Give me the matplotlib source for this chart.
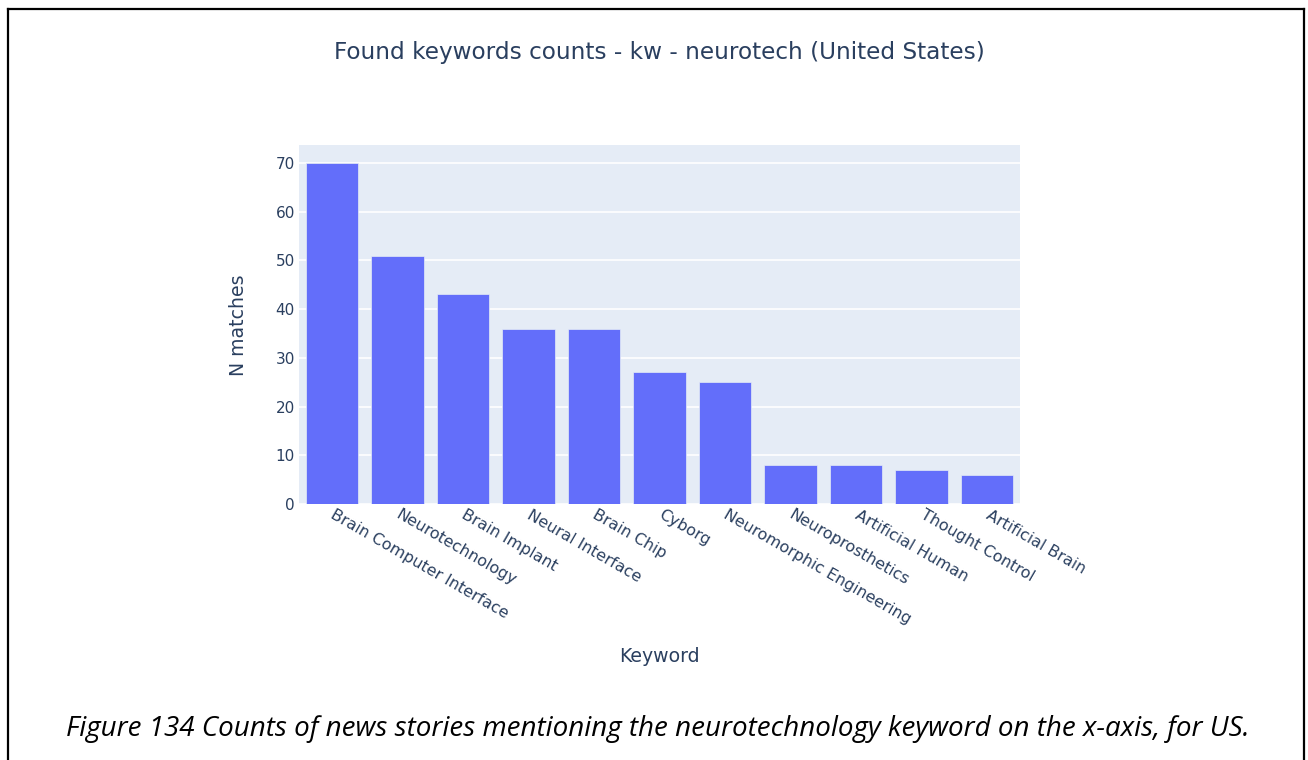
import matplotlib
matplotlib.use("Agg")
import matplotlib.pyplot as plt
from matplotlib.lines import Line2D

keywords = [
    "Brain Computer Interface", "Neurotechnology", "Brain Implant",
    "Neural Interface", "Brain Chip", "Cyborg", "Neuromorphic Engineering",
    "Neuroprosthetics", "Artificial Human", "Thought Control", "Artificial Brain",
]
counts = [70, 51, 43, 36, 36, 27, 25, 8, 8, 7, 6]
y_ticks = [0, 10, 20, 30, 40, 50, 60, 70]

title = "Found keywords counts - kw - neurotech (United States)"
caption = ("Figure 134 Counts of news stories mentioning the neurotechnology "
           "keyword on the x-axis, for US.")

TEXT = "#2a3f5f"
BAR = "#636efa"
BG = "#e5ecf6"

plt.rcParams["font.family"] = ["DejaVu Sans"]

W, H = 1308, 760
fig = plt.figure(figsize=(W / 100, H / 100), dpi=100)
fig.patch.set_facecolor("white")

ax = fig.add_axes([299 / W, 1 - 504 / H, (1020 - 299) / W, (504 - 145) / H])
ax.set_facecolor(BG)
for s in ax.spines.values():
    s.set_visible(False)

x = list(range(len(keywords)))
ax.bar(x, counts, width=0.8, color=BAR, edgecolor=BG, linewidth=0.5, zorder=3)
ax.set_xlim(-0.5, len(keywords) - 0.5)
ax.set_ylim(0, max(counts) * 1.0526)
ax.set_yticks(y_ticks)
ax.yaxis.grid(True, color="white", linewidth=1.2, zorder=0)
ax.set_axisbelow(True)
ax.tick_params(axis="y", length=0, pad=3, labelsize=11, labelcolor=TEXT)
ax.tick_params(axis="x", length=0, pad=7, labelsize=11.4, labelcolor=TEXT)
ax.set_xticks(x)
ax.set_xticklabels(keywords, rotation=-30, ha="left", va="center",
                   rotation_mode="anchor")

fig.text(659 / W, 1 - 53 / H, title, ha="center", va="center",
         fontsize=16.7, color=TEXT)
fig.text(238 / W, 1 - 325 / H, "N matches", rotation=90, ha="center",
         va="center", fontsize=13.6, color=TEXT)
fig.text(659 / W, 1 - 657 / H, "Keyword", ha="center", va="center",
         fontsize=13.6, color=TEXT)
fig.text(658 / W, 1 - 729 / H, caption, ha="center", va="center",
         fontsize=20, style="italic", color="black",
         family=["Open Sans", "DejaVu Sans"])

# frame around the figure (left, top, right edges)
px = lambda v: v / W
py = lambda v: 1 - v / H
for xs, ys in [((px(8), px(8)), (py(9), py(770))),
               ((px(8), px(1304)), (py(9), py(9))),
               ((px(1304), px(1304)), (py(9), py(770)))]:
    fig.add_artist(Line2D(xs, ys, color="black", linewidth=1.6,
                          transform=fig.transFigure))

fig.savefig("out.png", dpi=100)
